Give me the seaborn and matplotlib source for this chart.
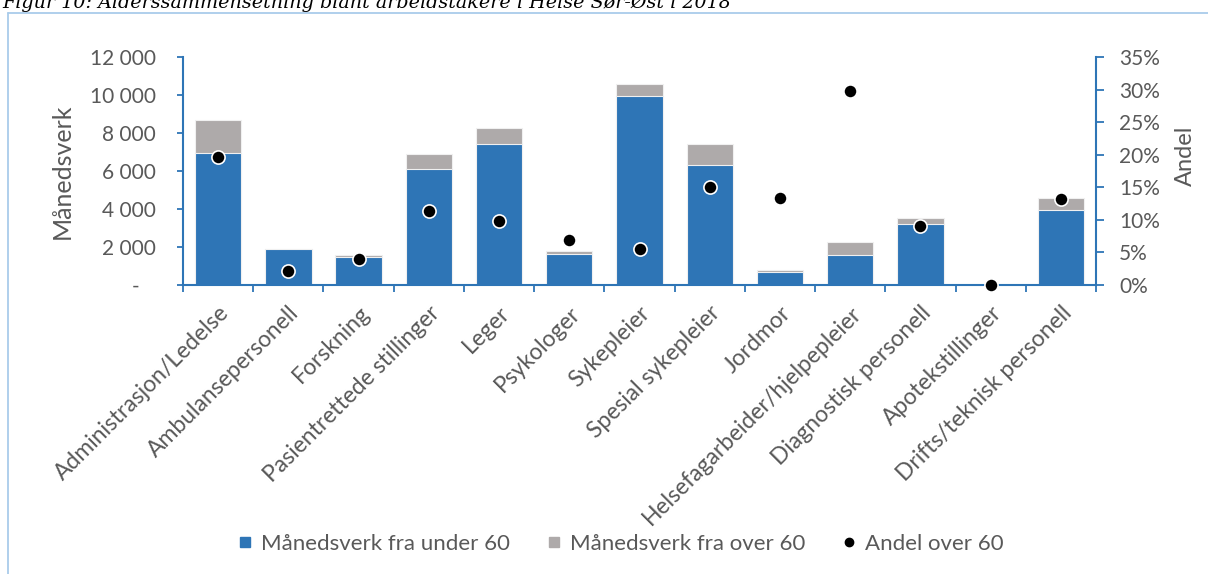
import numpy as np
import pandas as pd
import matplotlib
matplotlib.use("Agg")
import matplotlib.pyplot as plt
from matplotlib.lines import Line2D
from matplotlib.ticker import FixedLocator, FuncFormatter
import seaborn as sns

# Occupational groups and full-time-equivalent counts (månedsverk)
categories = [
    "Administrasjon/Ledelse", "Ambulansepersonell", "Forskning",
    "Pasientrettede stillinger", "Leger", "Psykologer", "Sykepleier",
    "Spesial sykepleier", "Jordmor", "Helsefagarbeider/hjelpepleier",
    "Diagnostisk personell", "Apotekstillinger", "Drifts/teknisk personell",
]
under_60 = [6960, 1880, 1490, 6120, 7420, 1630, 9950, 6300, 700, 1580, 3230, 0, 3950]
over_60 = [1740, 40, 100, 790, 830, 140, 610, 1140, 90, 700, 310, 0, 650]
andel_over_60 = [0.197, 0.022, 0.040, 0.114, 0.099, 0.069, 0.056, 0.150, 0.134,
                 0.298, 0.091, 0.0, 0.132]

left_ticks = [0, 2000, 4000, 6000, 8000, 10000, 12000]
right_ticks = [0.0, 0.05, 0.10, 0.15, 0.20, 0.25, 0.30, 0.35]

title = "Figur 10: Alderssammensetning blant arbeidstakere i Helse Sør-Øst i 2018"
legend_labels = ["Månedsverk fra under 60", "Månedsverk fra over 60", "Andel over 60"]

BLUE = "#2E75B6"
GREY = "#AEAAAA"
TXT = "#595959"
FRAME = "#A9CBEA"

sns.set_theme(style="white")
plt.rcParams["font.family"] = ["Lato", "DejaVu Sans"]

df = pd.DataFrame({
    "kategori": categories,
    "under": under_60,
    "over": over_60,
    "andel": andel_over_60,
})
df["total"] = df["under"] + df["over"]
n = len(df)

W, H = 1208, 574
fig = plt.figure(figsize=(W / 100, H / 100), dpi=100)
fig.patch.set_facecolor("white")

# chart frame (top and left edges) and the caption running off the top edge
fig.add_artist(Line2D([8 / W, 8 / W], [0, 1 - 12.5 / H], color=FRAME, lw=1.3))
fig.add_artist(Line2D([8 / W, 1], [1 - 12.5 / H, 1 - 12.5 / H], color=FRAME, lw=1.3))
fig.text(2 / W, 1 - 7.5 / H, title, family="DejaVu Serif", style="italic",
         fontsize=13.8, color="black", ha="left", va="baseline")

ax = fig.add_axes([183 / W, 1 - 285 / H, 913 / W, 228 / H])

# stacked bars: total (grey) behind, under-60 part (blue) in front
sns.barplot(data=df, x="kategori", y="total", color=GREY, saturation=1,
            width=0.66, edgecolor="#F0F0F0", linewidth=0.8, ax=ax)
sns.barplot(data=df, x="kategori", y="under", color=BLUE, saturation=1,
            width=0.66, edgecolor="#F0F0F0", linewidth=0.8, ax=ax)

ax.set_xlim(-0.5, n - 0.5)
ax.set_ylim(0, 12000)
ax.set_xlabel("")
ax.set_ylabel("Månedsverk", fontsize=18, color=TXT)
ax.yaxis.set_label_coords((74 - 183) / 913, (285 - 171) / 228)

ax.yaxis.set_major_locator(FixedLocator(left_ticks))
ax.yaxis.set_major_formatter(FuncFormatter(
    lambda v, p: "-   " if v == 0 else f"{int(v):,}".replace(",", " ")))
ax.tick_params(axis="y", direction="out", length=4.6, width=1.3, color=BLUE,
               labelsize=15, labelcolor=TXT, pad=15, left=True)

ax.set_xticks(range(n))
ax.set_xticklabels(categories, rotation=45, ha="right", va="top",
                   rotation_mode="anchor")
ax.xaxis.set_minor_locator(FixedLocator(np.arange(-0.5, n, 1.0)))
ax.tick_params(axis="x", which="major", length=0, labelsize=16.5,
               labelcolor=TXT, pad=12.5)
ax.tick_params(axis="x", which="minor", direction="out", length=5.2,
               width=1.3, color=BLUE, bottom=True)

for side in ["top", "right"]:
    ax.spines[side].set_visible(False)
for side in ["left", "bottom"]:
    ax.spines[side].set_color(BLUE)
    ax.spines[side].set_linewidth(1.5)
ax.grid(False)

# share over 60 on the secondary axis
ax2 = ax.twinx()
sns.scatterplot(x=np.arange(n), y=df["andel"], color="black", s=90,
                edgecolor="white", linewidth=1.2, ax=ax2, zorder=5, legend=False)
ax2.collections[0].set_clip_on(False)
ax2.set_ylim(0, 0.35)
ax2.set_xlim(-0.5, n - 0.5)
ax2.yaxis.set_major_locator(FixedLocator(right_ticks))
ax2.yaxis.set_major_formatter(FuncFormatter(lambda v, p: f"{v * 100:.0f}%"))
ax2.tick_params(axis="y", direction="out", length=5.6, width=1.3, color=BLUE,
                labelsize=15, labelcolor=TXT, pad=11, right=True)
ax2.set_ylabel("Andel", fontsize=17, color=TXT, rotation=90)
ax2.yaxis.set_label_coords((1175 - 183) / 913, (285 - 156) / 228)
for side in ["top", "left", "bottom"]:
    ax2.spines[side].set_visible(False)
ax2.spines["right"].set_color(BLUE)
ax2.spines["right"].set_linewidth(1.5)
ax2.grid(False)

handles = [
    Line2D([], [], marker="s", linestyle="none", markersize=7,
           markerfacecolor=BLUE, markeredgecolor=BLUE),
    Line2D([], [], marker="s", linestyle="none", markersize=7,
           markerfacecolor=GREY, markeredgecolor=GREY),
    Line2D([], [], marker="o", linestyle="none", markersize=6,
           markerfacecolor="black", markeredgecolor="black"),
]
leg = fig.legend(handles, legend_labels, loc="center",
                 bbox_to_anchor=(621 / W, 1 - 544 / H), ncol=3, frameon=False,
                 fontsize=16, handlelength=0.6, handletextpad=0.4,
                 columnspacing=1.7, borderaxespad=0)
for t in leg.get_texts():
    t.set_color(TXT)

fig.savefig("out.png", dpi=100)
